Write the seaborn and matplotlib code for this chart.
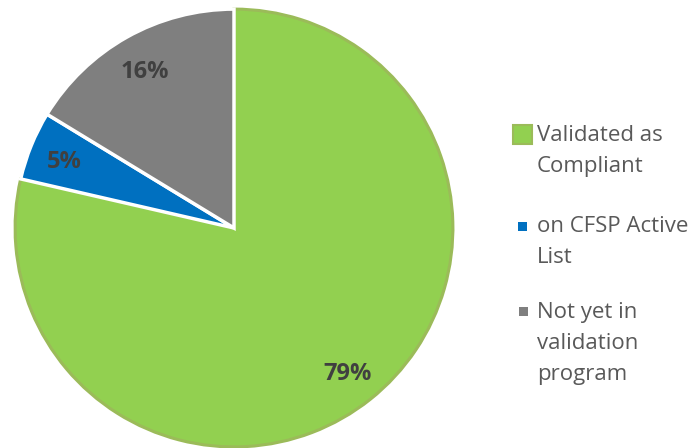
import matplotlib
matplotlib.use("Agg")
import matplotlib.pyplot as plt
from matplotlib.patches import Rectangle
import seaborn as sns

categories = ["Validated as\nCompliant", "on CFSP Active\nList", "Not yet in\nvalidation\nprogram"]
values = [78.6, 5.1, 16.3]
colors = ["#92D050", "#0070C0", "#7F7F7F"]

sns.set_theme(style="white")
plt.rcParams["font.family"] = ["Open Sans", "DejaVu Sans"]

W, H = 697, 448
fig = plt.figure(figsize=(W / 100, H / 100), dpi=100)
cx, cy, r = 234, 228, 220
ax = fig.add_axes([(cx - r) / W, (H - cy - r) / H, 2 * r / W, 2 * r / H])

wedges, texts, autotexts = ax.pie(
    values, colors=sns.color_palette(colors), startangle=90, counterclock=False,
    radius=0.995, autopct="%.0f%%", pctdistance=0.835,
    wedgeprops=dict(edgecolor="white", linewidth=2.5),
    textprops=dict(fontsize=17, fontweight="bold", color="#404040",
                   va="center_baseline"),
)
ax.set_xlim(-1, 1)
ax.set_ylim(-1, 1)
ax.set_aspect("equal")
ax.axis("off")
wedges[0].set_edgecolor("#9BBB59")
wedges[0].set_linewidth(2.2)
for w in wedges[1:]:
    w.set_zorder(3)
for t in autotexts:
    t.set_zorder(5)

# Legend (manual layout)
marker_specs = [
    (513, 125, 19, "#92D050", "#9BBB59"),
    (518, 222, 9, "#0070C0", "#0070C0"),
    (519, 307, 9, "#7F7F7F", "#7F7F7F"),
]
first_baselines = [141, 232, 318]
line_step = 31
for label, (mx, my, ms, fc, ec), base in zip(categories, marker_specs, first_baselines):
    fig.add_artist(Rectangle((mx / W, (H - my - ms) / H), ms / W, ms / H,
                             transform=fig.transFigure, facecolor=fc,
                             edgecolor=ec, linewidth=1.5 if ms > 10 else 0))
    for i, line in enumerate(label.split("\n")):
        fig.text(537 / W, (H - (base + i * line_step)) / H, line,
                 fontsize=16, color="#595959", ha="left", va="baseline")

fig.savefig("out.png", dpi=100)
